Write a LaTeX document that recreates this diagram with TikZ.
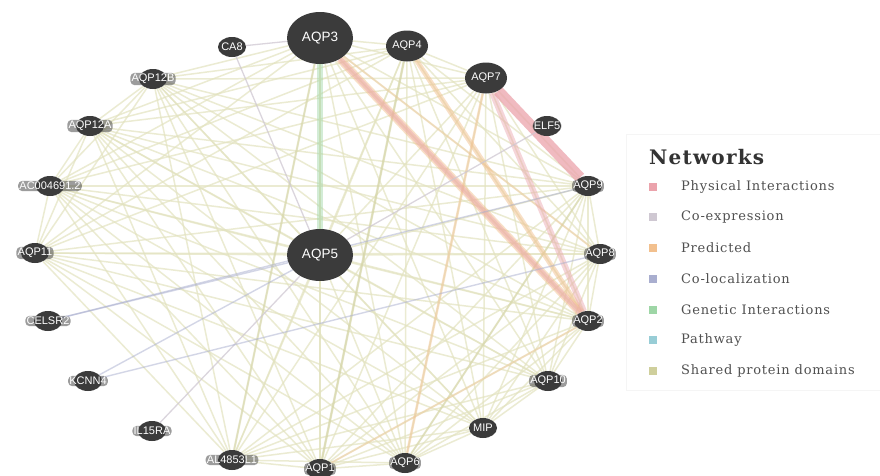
\documentclass[tikz,border=0pt]{standalone}
\usepackage{fontspec}
\setsansfont{Liberation Sans}
\newfontfamily\legfont[LetterSpace=6]{DejaVu Serif}
\usetikzlibrary{shapes.geometric}
\pgfdeclarelayer{bg}
\pgfsetlayers{bg,main}
\definecolor{nodegray}{HTML}{3B3B3B}
\definecolor{cphys}{HTML}{EBA3AC}
\definecolor{ccoexp}{HTML}{CFC8D2}
\definecolor{cpred}{HTML}{F2C08E}
\definecolor{ccoloc}{HTML}{A9AECF}
\definecolor{cgen}{HTML}{9ED6A6}
\definecolor{cpath}{HTML}{98CDD6}
\definecolor{cshared}{HTML}{CFCF9C}
\definecolor{eshared}{HTML}{E3E3C0}
\definecolor{legtext}{HTML}{505050}
\tikzset{
  gene/.style={ellipse, fill=nodegray, draw=none, inner sep=0pt},
  small/.style={gene, minimum width=28pt, minimum height=20pt},
  medium/.style={gene, minimum width=42pt, minimum height=31pt},
  big/.style={gene, minimum width=66pt, minimum height=52pt},
  lab/.style={text=white, font=\sffamily\fontsize{11}{11}\selectfont, fill=nodegray, fill opacity=0.5, text opacity=1, rounded corners=4pt, inner sep=1.2pt},
  biglab/.style={lab, font=\sffamily\fontsize{13.5}{14}\selectfont},
  shared/.style={draw=eshared, line width=1.5pt, opacity=0.7},
  pred/.style={draw=cpred, opacity=0.6},
  phys/.style={draw=cphys, opacity=0.75},
  coexp/.style={draw=ccoexp, line width=1.3pt, opacity=0.75},
  coloc/.style={draw=ccoloc, line width=1.4pt, opacity=0.5},
  genet/.style={draw=cgen, opacity=0.45},
  legsq/.style={minimum size=8pt, inner sep=0pt, draw=none},
  legtxt/.style={anchor=west, text=legtext, font=\legfont\fontsize{13}{14}\selectfont, inner sep=0pt}
}
\begin{document}
\begin{tikzpicture}[x=1pt,y=-1pt]
\useasboundingbox (0,0) rectangle (880,475);

% genes
\node[big] (aqp3) at (320,38) {};
\node[big] (aqp5) at (320,255) {};
\node[small] (ca8) at (232,47) {};
\node[small] (aqp12b) at (153,79) {};
\node[small] (aqp12a) at (90,126) {};
\node[small] (ac) at (50,186) {};
\node[small] (aqp11) at (35,253) {};
\node[small] (celsr2) at (48,321) {};
\node[small] (kcnn4) at (88,381) {};
\node[small] (il15ra) at (152,431) {};
\node[small] (al) at (232,460) {};
\node[small] (aqp1) at (320,469) {};
\node[small] (aqp6) at (405,463) {};
\node[small] (mip) at (483,428) {};
\node[small] (aqp10) at (548,381) {};
\node[small] (aqp2) at (588,321) {};
\node[small] (aqp8) at (600,254) {};
\node[small] (aqp9) at (588,186) {};
\node[small] (elf5) at (547,126) {};
\node[medium] (aqp7) at (486,78) {};
\node[medium] (aqp4) at (407,46) {};

\node[biglab] at (aqp3) {AQP3};
\node[biglab] at (aqp5) {AQP5};
\node[lab] at (ca8) {CA8};
\node[lab] at (aqp12b) {AQP12B};
\node[lab] at (aqp12a) {AQP12A};
\node[lab] at (ac) {AC004691.2};
\node[lab] at (aqp11) {AQP11};
\node[lab] at (celsr2) {CELSR2};
\node[lab] at (kcnn4) {KCNN4};
\node[lab] at (il15ra) {IL15RA};
\node[lab] at (al) {AL4853L1};
\node[lab] at (aqp1) {AQP1};
\node[lab] at (aqp6) {AQP6};
\node[lab] at (mip) {MIP};
\node[lab] at (aqp10) {AQP10};
\node[lab] at (aqp2) {AQP2};
\node[lab] at (aqp8) {AQP8};
\node[lab] at (aqp9) {AQP9};
\node[lab] at (elf5) {ELF5};
\node[lab] at (aqp7) {AQP7};
\node[lab] at (aqp4) {AQP4};

\begin{pgfonlayer}{bg}
  \fill[white] (0,0) rectangle (880,475);
  % shared protein domains: all aquaporin-family genes
  \foreach \a [count=\i] in {aqp1,aqp2,aqp3,aqp4,aqp5,aqp6,aqp7,aqp8,aqp9,aqp10,aqp11,aqp12a,aqp12b,mip,ac,al}{
    \foreach \b [count=\j] in {aqp1,aqp2,aqp3,aqp4,aqp5,aqp6,aqp7,aqp8,aqp9,aqp10,aqp11,aqp12a,aqp12b,mip,ac,al}{
      \ifnum\j>\i \draw[shared] (\a) -- (\b); \fi
    }
  }
  % stronger shared / predicted
  \draw[draw=cshared, line width=2.4pt, opacity=0.5] (aqp4) -- (aqp1);
  \draw[draw=cshared, line width=2.2pt, opacity=0.4] (aqp3) -- (al);
  \draw[draw=cshared, line width=2pt, opacity=0.4] (aqp9) -- (aqp6);
  \draw[pred, line width=2.6pt, opacity=0.45] (aqp7) -- (aqp6);
  \draw[pred, line width=2pt, opacity=0.35] (aqp3) -- (aqp8);
  \draw[pred, line width=2pt, opacity=0.35] (aqp2) -- (aqp1);
  \draw[pred, line width=5pt, opacity=0.5] (aqp4) -- (aqp2);
  \draw[pred, line width=8pt, opacity=0.5] (aqp3) -- (aqp2);
  % physical interactions
  \draw[phys, line width=5pt, opacity=0.45] (aqp3) -- (aqp2);
  \draw[phys, line width=6pt, opacity=0.45] (aqp7) -- (aqp2);
  \draw[phys, line width=11pt] (aqp7) -- (aqp9);
  % genetic interactions
  \draw[genet, line width=6pt] (aqp3) -- (aqp5);
  % co-expression
  \draw[coexp] (ca8) -- (aqp5);
  \draw[coexp] (ca8) -- (aqp3);
  \draw[coexp] (il15ra) -- (aqp5);
  \draw[coexp] (elf5) -- (aqp5);
  % co-localization
  \draw[coloc] (celsr2) -- (aqp5);
  \draw[coloc] (kcnn4) -- (aqp5);
  \draw[coloc] (kcnn4) -- (aqp8);
  \draw[coloc] (celsr2) -- (aqp9);
\end{pgfonlayer}

% legend
\draw[draw=gray!8, line width=0.8pt] (626,134) rectangle (880,390);
\node[anchor=west, text=black!80, font=\legfont\bfseries\fontsize{20}{22}\selectfont, inner sep=0pt] (legtitle) at (649,157) {Networks};
\foreach \c/\t [count=\k] in {cphys/Physical Interactions, ccoexp/Co-expression, cpred/Predicted, ccoloc/Co-localization, cgen/Genetic Interactions, cpath/Pathway, cshared/Shared protein domains}{
  \node[legsq, fill=\c] (sq\k) at (653,{156+30.7*\k}) {};
  \node[legtxt] (lt\k) at (681,{156+30.7*\k}) {\t};
}
\end{tikzpicture}
\end{document}
